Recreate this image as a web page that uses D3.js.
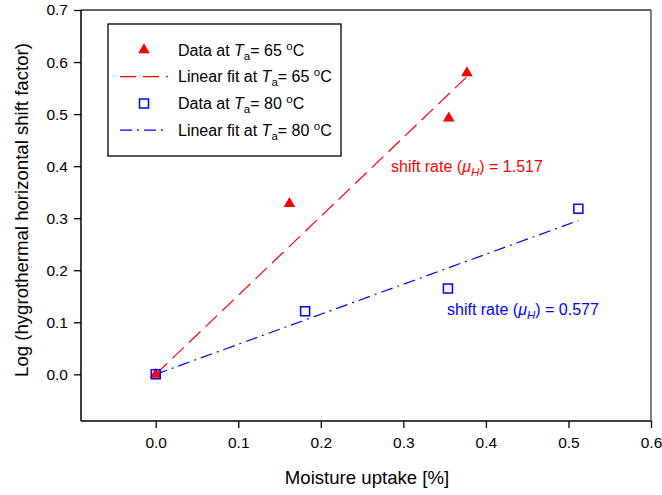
<!DOCTYPE html>
<html><head><meta charset="utf-8">
<script src="https://cdn.jsdelivr.net/npm/d3@7/dist/d3.min.js"></script>
<style>
html,body{margin:0;padding:0;background:#fff;}
text{font-family:"Liberation Sans",Arial,sans-serif;}
</style></head>
<body><svg id="chart" width="662" height="495"></svg>
<script>
// ---- data ----
const xTicks = [0.0, 0.1, 0.2, 0.3, 0.4, 0.5, 0.6];
const yTicks = [0.0, 0.1, 0.2, 0.3, 0.4, 0.5, 0.6, 0.7];
const data65X = [0.0, 0.162, 0.355, 0.377];
const data65Y = [0.0, 0.328, 0.492, 0.579];
const data80X = [0.0, 0.181, 0.354, 0.512];
const data80Y = [0.0, 0.121, 0.165, 0.318];
const fit65Slope = 1.517, fit65End = 0.377;
const fit80Slope = 0.577, fit80End = 0.512;
const xTitle = "Moisture uptake [%]";
const yTitle = "Log (hygrothermal horizontal shift factor)";

const RED = "#ff0000", BLUE = "#0000ff";
const svg = d3.select("#chart");
const L = 81, R = 651, T = 10, B = 421;
const x = d3.scaleLinear().domain([-0.0905, 0.6]).range([L, R]);
const y = d3.scaleLinear().domain([-0.0897, 0.7]).range([B, T]);

// frame
svg.append("line").attr("x1", L).attr("x2", R).attr("y1", T).attr("y2", T).attr("stroke", "#333").attr("stroke-width", 1.3);
svg.append("line").attr("x1", R).attr("x2", R).attr("y1", T).attr("y2", B).attr("stroke", "#555").attr("stroke-width", 1.5);

// axes
const xAxis = d3.axisBottom(x).tickValues(xTicks).tickFormat(d3.format(".1f")).tickSize(7).tickPadding(9);
const gx = svg.append("g").attr("transform", `translate(0,${B})`).call(xAxis);
const yAxis = d3.axisLeft(y).tickValues(yTicks).tickFormat(d3.format(".1f")).tickSize(7).tickPadding(6);
const gy = svg.append("g").attr("transform", `translate(${L},0)`).call(yAxis);
[gx, gy].forEach(g => {
  g.select(".domain").attr("stroke", "#000").attr("stroke-width", 1.5);
  g.selectAll(".tick line").attr("stroke", "#000").attr("stroke-width", 1.3);
  g.selectAll(".tick text").attr("font-size", 15.5).attr("fill", "#000").attr("font-family", "Liberation Sans, Arial, sans-serif");
});
gx.select(".domain").attr("d", `M${L},0H${R}`);
gy.select(".domain").attr("d", `M0,${B}V${T}`);

svg.append("text").attr("x", 367).attr("y", 484).attr("text-anchor", "middle").attr("font-size", 18.6).text(xTitle);
svg.append("text").attr("transform", "translate(28,210) rotate(-90)").attr("text-anchor", "middle").attr("font-size", 18.6).text(yTitle);

// fit lines
const line = d3.line().x(d => x(d[0])).y(d => y(d[1]));
svg.append("path").attr("d", line([[0, 0], [fit65End, fit65Slope * fit65End]]))
  .attr("fill", "none").attr("stroke", RED).attr("stroke-width", 1.2).attr("stroke-dasharray", "16,7");
svg.append("path").attr("d", line([[0, 0], [fit80End, fit80Slope * fit80End]]))
  .attr("fill", "none").attr("stroke", BLUE).attr("stroke-width", 1.2).attr("stroke-dasharray", "12,5,2,5");

// points
const tri = d3.symbol(d3.symbolTriangle, 58);
const sq = d3.symbol(d3.symbolSquare, 81);
svg.selectAll(".p65").data(data65X).enter().append("path")
  .attr("d", tri).attr("transform", (d, i) => `translate(${x(d)},${y(data65Y[i])})`).attr("fill", RED);
svg.selectAll(".p80").data(data80X).enter().append("path")
  .attr("d", sq).attr("transform", (d, i) => `translate(${x(d)},${y(data80Y[i])})`)
  .attr("fill", "none").attr("stroke", BLUE).attr("stroke-width", 1.5);

// annotations
function shiftText(xp, yp, color, val) {
  const t = svg.append("text").attr("x", xp).attr("y", yp).attr("font-size", 16).attr("fill", color);
  t.append("tspan").text("shift rate (");
  t.append("tspan").attr("font-style", "italic").text("μ");
  t.append("tspan").attr("font-style", "italic").attr("font-size", 11.5).attr("dy", 4).text("H");
  t.append("tspan").attr("dy", -4).text(") = " + val);
}
shiftText(391, 172, RED, "1.517");
shiftText(447, 315, BLUE, "0.577");

// legend
svg.append("rect").attr("x", 108).attr("y", 24).attr("width", 233).attr("height", 132)
  .attr("fill", "#fff").attr("stroke", "#000").attr("stroke-width", 1.3);
const rows = [
  {k: "tri", lbl: "Data at ", temp: "65"},
  {k: "l65", lbl: "Linear fit at ", temp: "65"},
  {k: "sq", lbl: "Data at ", temp: "80"},
  {k: "l80", lbl: "Linear fit at ", temp: "80"}
];
rows.forEach((r, i) => {
  const cy = 50 + i * 26.7;
  if (r.k === "tri") svg.append("path").attr("d", tri).attr("transform", `translate(144,${cy})`).attr("fill", RED);
  if (r.k === "sq") svg.append("path").attr("d", sq).attr("transform", `translate(144,${cy})`).attr("fill", "none").attr("stroke", BLUE).attr("stroke-width", 1.5);
  if (r.k === "l65") svg.append("line").attr("x1", 120).attr("x2", 168).attr("y1", cy).attr("y2", cy).attr("stroke", RED).attr("stroke-width", 1.2).attr("stroke-dasharray", "16,7");
  if (r.k === "l80") svg.append("line").attr("x1", 120).attr("x2", 168).attr("y1", cy).attr("y2", cy).attr("stroke", BLUE).attr("stroke-width", 1.2).attr("stroke-dasharray", "12,5,2,5");
  const t = svg.append("text").attr("x", 178).attr("y", cy + 5.5).attr("font-size", 16).attr("fill", "#000");
  t.append("tspan").text(r.lbl);
  t.append("tspan").attr("font-style", "italic").text("T");
  t.append("tspan").attr("font-size", 11.5).attr("dy", 4).text("a");
  t.append("tspan").attr("dy", -4).text("= " + r.temp + " ");
  t.append("tspan").attr("font-size", 11.5).attr("dy", -6).text("o");
  t.append("tspan").attr("dy", 6).text("C");
});
</script></body></html>
